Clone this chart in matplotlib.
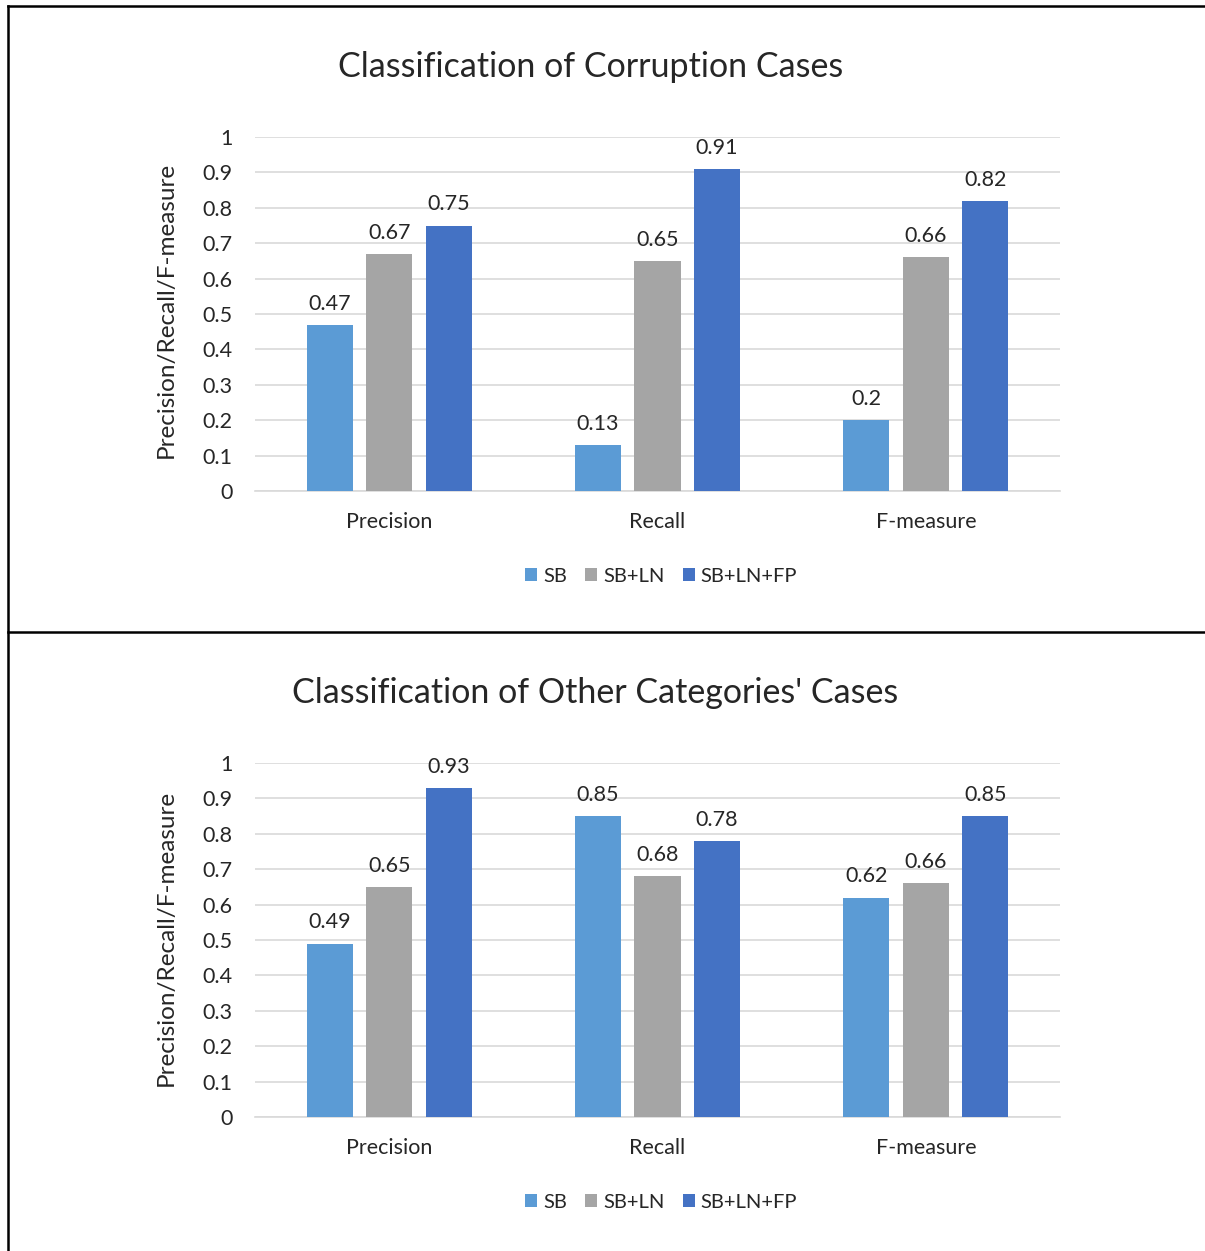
import matplotlib
matplotlib.use("Agg")
import matplotlib.pyplot as plt
from matplotlib.lines import Line2D
from matplotlib.patches import Patch
import numpy as np

plt.rcParams['font.family'] = ['Lato', 'DejaVu Sans']

categories = ["Precision", "Recall", "F-measure"]
series_names = ["SB", "SB+LN", "SB+LN+FP"]
colors = ["#5B9BD5", "#A5A5A5", "#4472C4"]

corruption_sb = [0.47, 0.13, 0.2]
corruption_sb_ln = [0.67, 0.65, 0.66]
corruption_sb_ln_fp = [0.75, 0.91, 0.82]

other_sb = [0.49, 0.85, 0.62]
other_sb_ln = [0.65, 0.68, 0.66]
other_sb_ln_fp = [0.93, 0.78, 0.85]

yticks = [0, 0.1, 0.2, 0.3, 0.4, 0.5, 0.6, 0.7, 0.8, 0.9, 1]
ytick_labels = ["0", "0.1", "0.2", "0.3", "0.4", "0.5", "0.6", "0.7", "0.8", "0.9", "1"]

W, H = 1205, 1251
fig = plt.figure(figsize=(W / 100, H / 100), dpi=100)

TEXT = "#262626"


def px_axes(left, right, top, bottom):
    return fig.add_axes([left / W, 1 - bottom / H, (right - left) / W, (bottom - top) / H])


def draw_panel(ax, data, title, title_xy, legend_y, ylabel_y):
    x = np.arange(len(categories))
    offsets = [-0.222, 0.0, 0.222]
    width = 0.172
    for vals, off, col, name in zip(data, offsets, colors, series_names):
        bars = ax.bar(x + off, vals, width=width, color=col, label=name, zorder=3)
        for b, v in zip(bars, vals):
            ax.annotate(f"{v:g}", (b.get_x() + b.get_width() / 2, v),
                        xytext=(0, 8), textcoords="offset points",
                        ha="center", va="bottom", fontsize=15.5, color=TEXT)
    ax.set_xlim(-0.5, 2.5)
    ax.set_ylim(0, 1)
    ax.set_yticks(yticks)
    ax.set_yticklabels(ytick_labels)
    ax.set_xticks(x)
    ax.set_xticklabels(categories)
    ax.grid(axis="y", color="#D9D9D9", linewidth=1.2, zorder=0)
    for s in ["top", "right", "left"]:
        ax.spines[s].set_visible(False)
    ax.spines["bottom"].set_color("#D9D9D9")
    ax.spines["bottom"].set_linewidth(1.2)
    ax.tick_params(axis="both", length=0, labelsize=15.5, colors=TEXT)
    ax.tick_params(axis="y", pad=16)
    ax.tick_params(axis="x", pad=15)
    ax.set_ylabel("Precision/Recall/F-measure", fontsize=17.5, color=TEXT,
                  va="center", rotation=90)
    ax.yaxis.set_label_coords((166 - 255) / 805, ylabel_y)
    fig.text(title_xy[0] / W, 1 - title_xy[1] / H, title, ha="center", va="center",
             fontsize=24.5, color=TEXT)
    handles = [Patch(facecolor=c, label=n) for c, n in zip(colors, series_names)]
    fig.legend(handles=handles, loc="center", bbox_to_anchor=(661 / W, 1 - legend_y / H),
               ncol=3, frameon=False, fontsize=14.5, handlelength=0.6, handleheight=0.6,
               handletextpad=0.3, columnspacing=0.9, labelcolor=TEXT)


ax1 = px_axes(255, 1060, 137, 491)
draw_panel(ax1, [corruption_sb, corruption_sb_ln, corruption_sb_ln_fp],
           "Classification of Corruption Cases", (591, 67), 576, 0.511)

ax2 = px_axes(255, 1060, 763, 1117)
draw_panel(ax2, [other_sb, other_sb_ln, other_sb_ln_fp],
           "Classification of Other Categories' Cases", (595, 693), 1202, 0.505)

# frame lines around the two panels
for (x0, y0, x1, y1) in [(8, 6, W, 6), (8, 6, 8, H), (8, 632, W, 632)]:
    fig.add_artist(Line2D([x0 / W, x1 / W], [1 - y0 / H, 1 - y1 / H],
                          color="black", linewidth=1.8, transform=fig.transFigure))

fig.savefig("out.png", dpi=100, facecolor="white")
